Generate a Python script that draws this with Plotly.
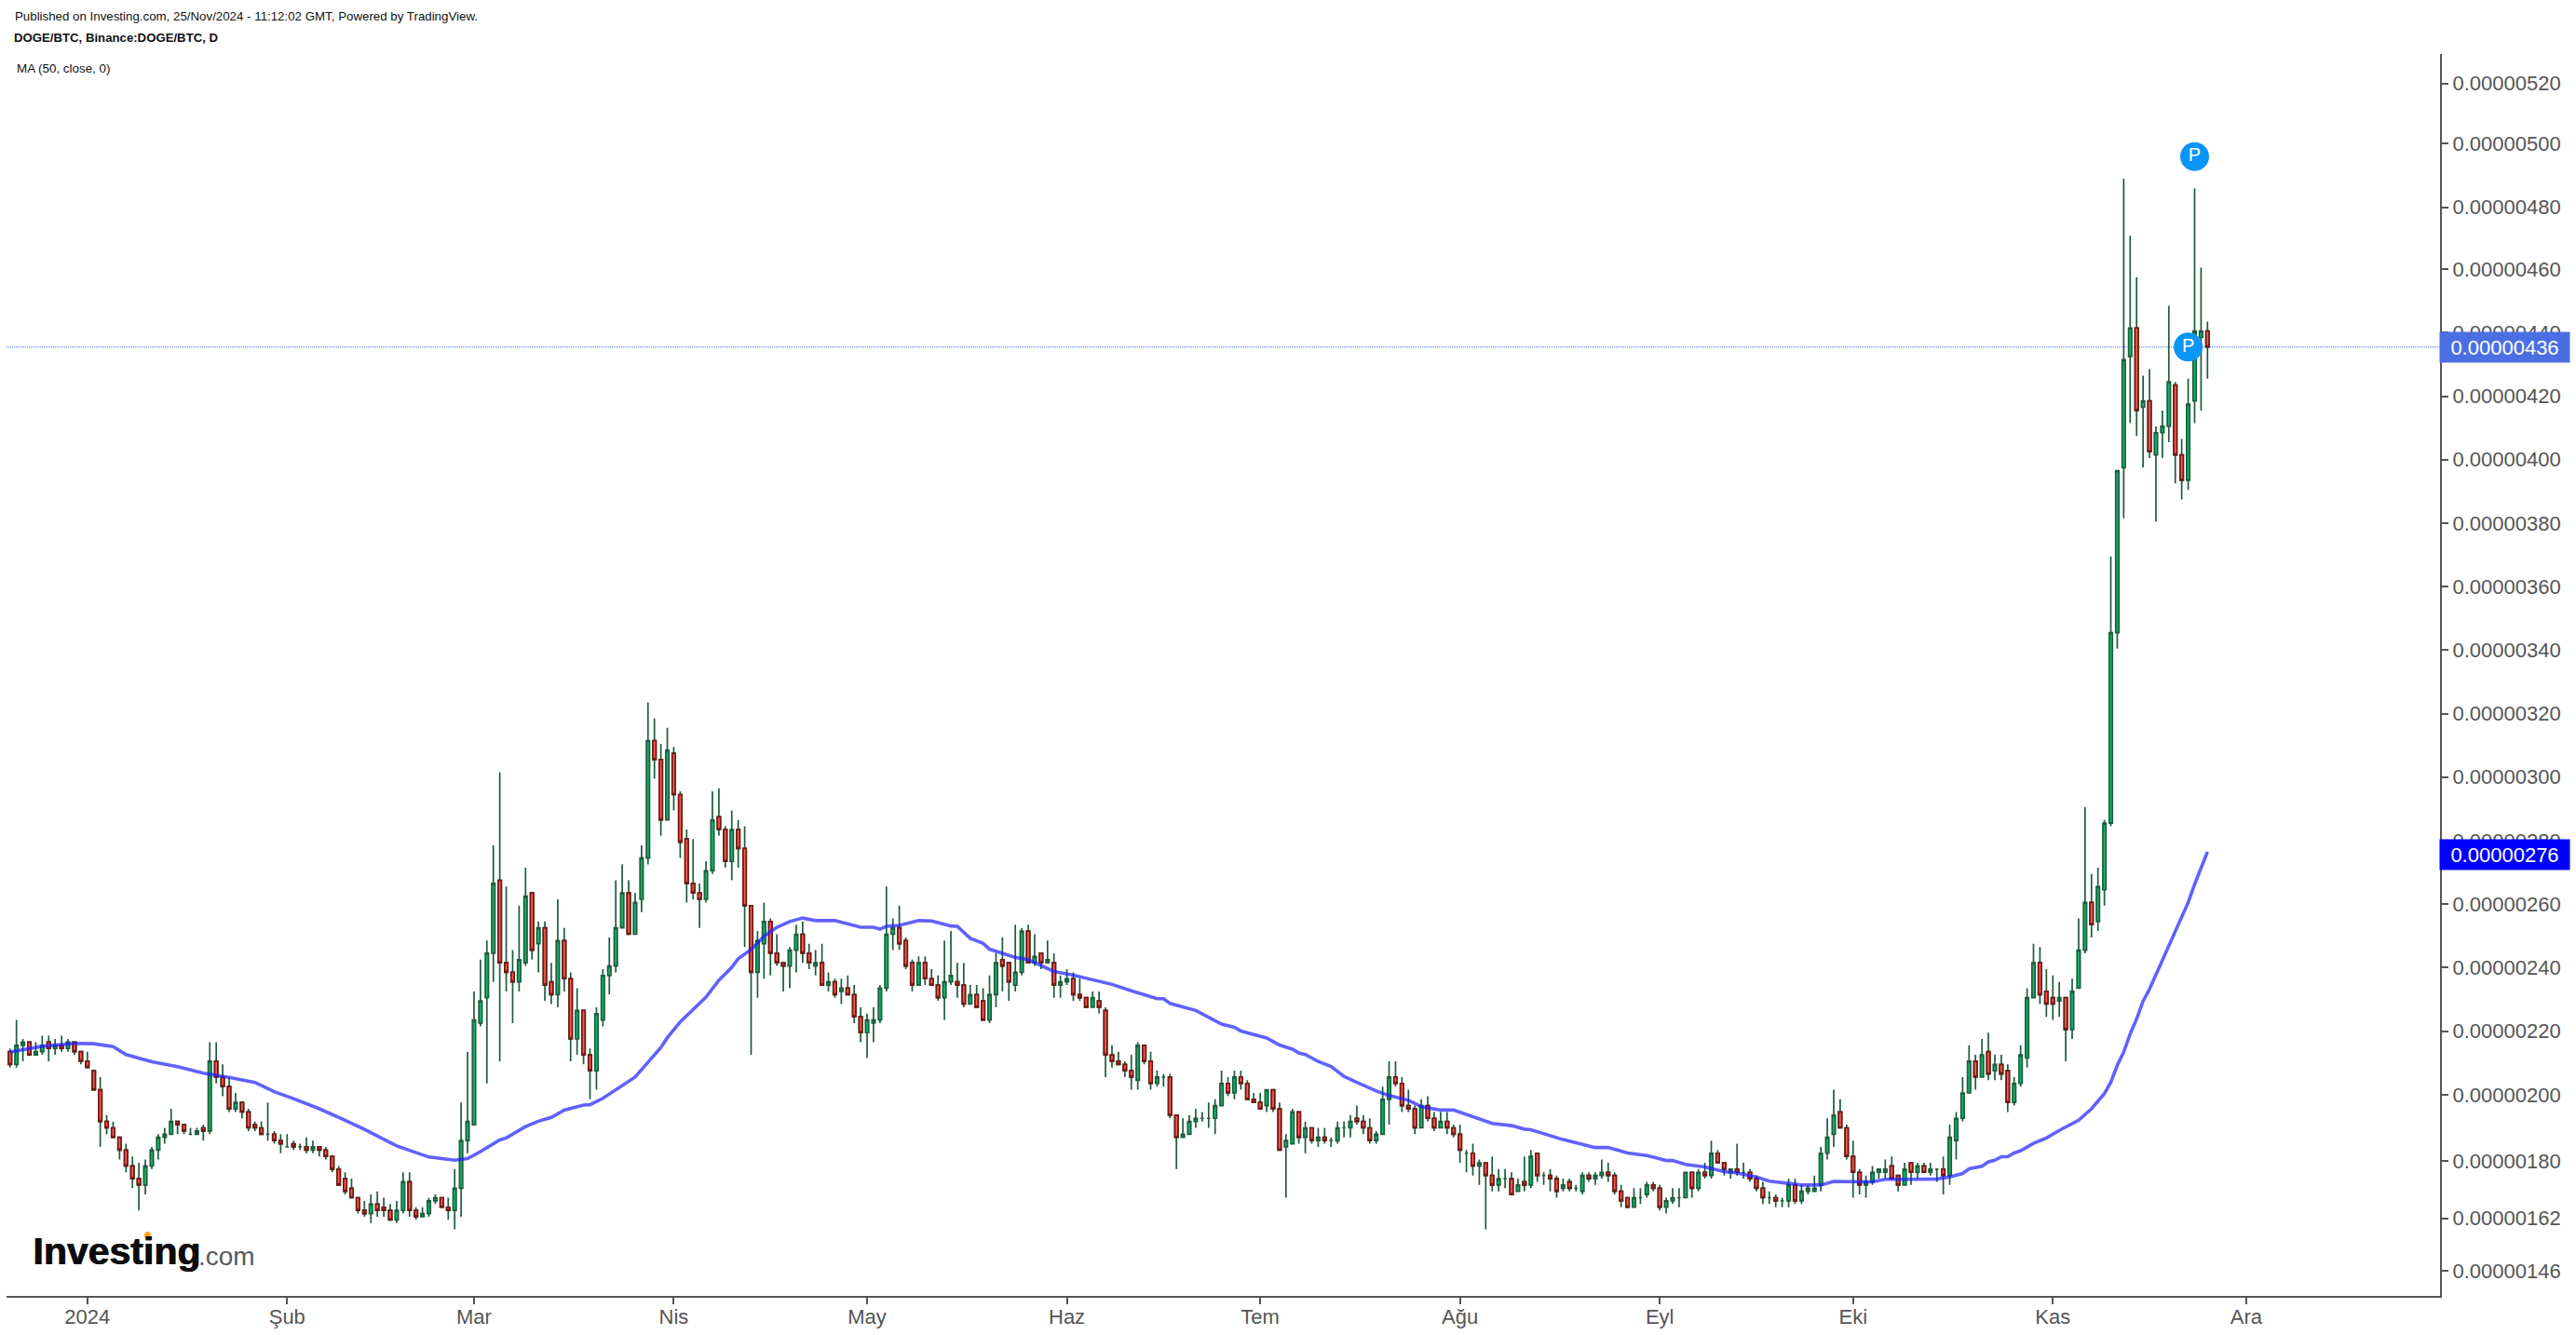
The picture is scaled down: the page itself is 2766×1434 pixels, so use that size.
import numpy as np
import pandas as pd
import plotly.graph_objects as go

# Prices in units of 0.00000001 BTC, one entry per daily candle from 2023-12-20 to 2024-11-25
open_units = [
 214,210,216,217,213,214,217,215,216,215,217,214,  # Dec
 211,208,202,192,190,187,183,178,174,172,178,183,187,188,192,191,188,188,190,189,211,206,203,196,198,195,191,190,188,188,186,  # Jan
 184,185,184,184,183,184,183,181,177,174,171,168,164,163,166,165,164,161,164,173,164,162,163,167,168,165,164,171,186,  # Feb
 191,223,231,245,268,242,239,236,242,264,248,253,236,232,249,237,218,227,213,208,224,238,241,253,264,251,262,275,312,306,287,  # Mar
 308,295,281,267,264,262,271,288,284,274,284,278,260,239,248,255,245,242,241,246,251,245,241,242,235,236,233,234,232,225,  # Apr
 220,223,224,234,251,253,249,242,235,242,237,235,231,236,236,235,229,232,230,224,232,243,242,235,239,252,242,245,242,242,235,  # May
 236,237,232,231,228,230,227,213,211,210,208,205,216,211,204,206,206,194,187,188,192,193,193,193,197,204,201,206,204,199,  # Jun
 198,197,202,196,184,185,195,187,190,186,187,186,186,190,190,193,192,190,186,188,199,206,204,197,196,190,197,193,190,192,190,  # Jul
 188,182,182,178,179,175,172,174,174,170,173,172,182,175,175,174,171,173,171,170,175,174,175,176,175,170,168,165,168,169,172,  # Aug
 171,165,167,168,168,176,171,176,175,182,179,176,177,176,176,174,171,168,168,167,167,172,167,170,170,172,182,188,195,190,  # Sep
 181,176,172,173,176,176,178,175,172,179,176,178,176,177,177,175,186,193,201,211,206,214,208,210,208,198,204,212,231,242,233,  # Oct
 231,230,231,221,234,246,261,255,265,286,346,398,433,442,417,419,402,409,411,424,402,394,419,439,441,  # Nov
]
high_units = [
 215,224,218,217,217,219,219,218,219,218,217,214,
 214,208,206,194,192,187,185,181,179,180,184,188,190,196,192,191,190,190,191,217,217,210,206,201,198,196,192,192,198,189,188,
 188,186,185,187,186,184,184,181,178,176,174,168,167,169,170,168,166,167,176,176,165,165,168,169,168,168,177,198,214,
 233,243,249,279,302,266,246,260,272,264,255,255,242,262,253,239,234,227,215,228,240,250,268,273,268,264,279,324,319,311,316,
 310,296,284,281,267,274,296,297,285,290,287,285,260,252,261,256,251,242,247,254,255,248,246,248,239,237,237,238,235,228,
 226,228,235,266,256,260,250,243,244,244,240,238,249,252,242,242,235,235,234,238,245,250,242,254,253,254,251,245,249,245,238,
 240,239,237,231,233,233,228,216,214,211,213,217,216,214,208,207,207,194,193,194,196,195,198,199,208,206,208,208,205,201,
 201,202,202,198,188,196,195,192,190,190,190,187,192,192,194,197,194,193,189,203,211,211,206,202,197,199,200,195,195,195,191,
 191,183,185,180,179,181,177,177,176,174,181,183,182,176,177,175,174,174,172,176,176,176,180,179,176,172,168,171,171,173,173,
 172,168,171,171,176,176,177,179,186,183,179,177,185,179,177,175,173,170,169,168,174,174,172,172,175,184,193,202,199,191,
 186,177,175,178,177,180,181,175,179,179,179,179,179,177,181,191,195,206,216,213,218,220,213,213,210,206,216,234,248,247,240,
 238,236,231,237,256,291,270,272,287,370,397,489,471,458,427,429,411,416,449,425,407,426,486,461,444,
]
low_units = [
 209,209,211,213,213,213,211,213,214,214,213,210,
 209,202,184,188,187,180,176,171,164,169,177,180,185,188,188,188,188,188,186,188,204,200,195,195,193,189,189,188,186,185,182,
 184,183,183,182,182,181,180,176,172,169,168,163,162,160,162,162,161,160,163,162,161,162,162,166,165,161,158,162,182,
 191,222,204,236,211,233,223,233,241,243,239,230,229,228,233,211,213,210,199,202,222,232,239,253,251,251,258,273,300,282,287,
 290,275,261,262,253,261,270,282,272,268,272,247,213,231,237,238,241,233,234,239,242,240,238,235,233,231,229,232,223,217,
 212,217,223,233,246,246,240,233,235,235,235,230,224,235,231,228,229,228,224,223,228,233,230,233,238,242,241,240,242,231,231,
 235,230,230,228,228,226,206,209,210,206,202,202,210,202,203,203,193,177,187,188,190,192,190,188,197,200,199,202,199,198,
 196,195,195,183,168,185,185,182,185,184,185,184,185,187,187,191,188,185,185,188,191,203,195,195,188,190,192,189,190,188,187,
 179,176,175,172,158,170,170,171,169,170,170,171,173,172,170,168,170,170,170,169,173,172,174,173,169,165,165,165,166,168,170,
 164,163,166,165,168,168,170,174,174,179,175,174,175,174,173,170,166,166,165,165,165,166,166,169,170,170,180,184,190,180,
 168,169,168,172,174,174,174,170,172,172,174,176,175,173,169,172,180,192,201,202,206,205,205,205,195,197,203,209,231,229,225,
 224,225,211,218,234,245,250,252,260,285,341,382,412,408,398,401,381,401,406,393,388,391,412,416,426,
]
close_units = [
 210,216,217,213,214,216,215,216,215,217,214,211,
 209,202,192,190,187,183,178,174,172,178,183,187,188,192,191,189,188,189,189,211,206,203,196,198,195,190,190,188,188,186,185,
 184,184,184,183,184,183,181,177,172,170,168,164,163,166,164,164,161,164,173,164,162,163,167,168,165,164,171,186,192,
 224,230,245,267,242,239,236,243,263,246,253,235,232,249,237,218,227,213,208,226,238,241,253,264,251,261,275,312,306,287,309,
 295,280,267,264,262,271,287,284,274,284,278,260,239,249,255,245,242,241,246,251,245,242,242,235,236,232,234,232,225,220,
 224,224,234,251,253,248,241,235,242,237,235,231,236,238,235,229,232,228,224,232,242,241,236,239,252,242,244,242,243,235,236,
 237,232,231,228,231,228,213,211,210,208,206,216,211,204,206,206,194,187,188,192,193,193,193,197,204,201,206,204,199,198,
 196,202,196,183,186,195,187,190,186,187,186,186,190,190,192,192,190,186,188,199,206,204,197,196,190,197,193,190,192,190,188,
 183,182,178,179,175,172,174,174,169,172,172,181,175,175,174,170,172,171,171,175,174,175,176,175,170,167,165,168,168,172,171,
 165,167,168,168,176,171,176,175,182,179,177,177,176,176,174,171,168,168,167,167,172,167,170,171,171,182,187,194,190,181,
 176,172,173,176,177,177,174,172,177,176,178,176,177,177,175,187,193,201,211,206,213,207,210,207,198,204,213,231,242,232,229,
 229,231,221,233,246,261,254,266,286,346,397,432,442,416,419,403,409,411,425,402,394,418,441,441,436,
]

# 50-day moving average: day number counted from 2024-01-01, and its value
ma_days = [-12,-10,-7,-2,1,4,6,10,14,18,22,26,29,32,36,40,43,48,53,57,59,61,64,65,68,70,72,74,77,78,80,85,87,89,90,92,96,98,100,101,103,105,107,109,
 111,113,116,120,122,123,124,126,129,131,134,135,137,139,140,142,144,146,148,150,153,155,156,159,162,166,167,168,172,174,176,178,179,183,185,187,188,189,191,193,195,197,
 200,202,205,207,210,212,218,221,223,224,229,234,236,239,242,245,246,248,251,254,256,259,261,264,266,269,271,277,279,284,
 287,289,291,292,294,295,296,297,298,299,300,302,304,306,309,311,313,314,315,316,317,318,319,320,322,323,324,326,327,328,329]
ma_units = [213.9,214.7,215.7,216.6,216.5,215.6,213.1,210.8,209.3,207.2,205.9,204.3,201.4,199.2,196,192.4,189.5,184.3,180.8,179.8,180.3,182.5,186.2,186.8,190.4,192.1,193.3,195.6,197.2,197.3,199.3,206,210.7,215.3,218.4,223.4,231.2,236.5,240.6,243.3,246.2,250.3,253.2,255,
 256.1,255.3,255.3,253.2,253.2,252.6,253.5,253.8,255.3,255.2,253.6,253.5,249.7,248.1,246.3,244.9,243.7,243,241.2,239.3,238.1,237.1,236.8,235.2,233.2,230.7,230.7,229.2,227,224.8,222.7,221.7,220.5,218.3,216.1,214.8,213.6,213.1,210.9,209.3,206.2,204.3,
 201.6,200.2,198.7,196.7,195.6,195.6,191.4,190.7,189.6,189.4,186.3,183.8,183.8,182.1,181.3,179.7,179.7,178.5,177.7,176.2,175.8,174.5,173.2,172.5,172,172,173.1,173,173.8,173.8,
 173.9,174.5,175.6,177.1,177.9,179.3,179.8,180.9,180.9,182.1,182.8,185.1,186.8,189.2,192.4,196,200.8,204.4,209.7,213.9,219.6,224.3,229.9,233.7,242.6,247.4,251.9,261,266.7,272.2,277]

# Positions of the two "P" badges: date and price in units
badge_dates = ["2024-11-23", "2024-11-22"]
badge_units = [496, 436]

last_close_units = 436
last_ma_units = 276

# Tick places as read against the candles (the printed labels are rounded)
y_tick_units = [145,161.5,179.5,200.4,220.5,240.5,260.5,280.5,300.5,320.5,340.5,360.5,380.5,400.5,420.5,440.5,460.5,480,500,519]
y_tick_labels = ["0.00000146","0.00000162","0.00000180","0.00000200","0.00000220","0.00000240","0.00000260","0.00000280","0.00000300","0.00000320",
                 "0.00000340","0.00000360","0.00000380","0.00000400","0.00000420","0.00000440","0.00000460","0.00000480","0.00000500","0.00000520"]
x_tick_dates = ["2024-01-01","2024-02-01","2024-03-01","2024-04-01","2024-05-01","2024-06-01","2024-07-01","2024-08-01","2024-09-01","2024-10-01","2024-11-01","2024-12-01"]
x_tick_labels = ["2024","Şub","Mar","Nis","May","Haz","Tem","Ağu","Eyl","Eki","Kas","Ara"]

assert len(open_units) == len(high_units) == len(low_units) == len(close_units) == 342
assert len(ma_days) == len(ma_units)

U = 1e-8
dates = pd.date_range("2023-12-20", periods=len(open_units), freq="D")
o, h, l, c = (np.array(a, dtype=float) * U for a in (open_units, high_units, low_units, close_units))
ma_dates = pd.Timestamp("2024-01-01") + pd.to_timedelta(ma_days, unit="D")
ma = np.array(ma_units) * U

W, H = 2766, 1434
L, R, T, B = 7, 2620, 58, 1392
WICK = "#1d5c3c"
UP = "#0cbb6b"
DOWN = "#ff5b4f"
DOWN_EDGE = "#701a16"
AX = "#555555"
FONT = "Liberation Sans, Arial, sans-serif"

fig = go.Figure()
# every candle: green-dark wick and green body
fig.add_trace(go.Candlestick(
    x=dates, open=o, high=h, low=l, close=c, whiskerwidth=0,
    increasing=dict(line=dict(color=WICK, width=1.7), fillcolor=UP),
    decreasing=dict(line=dict(color=WICK, width=1.7), fillcolor=DOWN),
    hoverinfo="skip", showlegend=False))
# falling candles' bodies get the dark red edge
down = c < o
fig.add_trace(go.Candlestick(
    x=dates[down], open=o[down], high=o[down], low=c[down], close=c[down], whiskerwidth=0,
    increasing=dict(line=dict(color=DOWN_EDGE, width=1.7), fillcolor=DOWN),
    decreasing=dict(line=dict(color=DOWN_EDGE, width=1.7), fillcolor=DOWN),
    hoverinfo="skip", showlegend=False))
fig.add_trace(go.Scatter(x=ma_dates, y=ma, mode="lines", line=dict(color="rgba(30,30,255,0.7)", width=3.6),
                         hoverinfo="skip", showlegend=False))
fig.add_trace(go.Scatter(x=badge_dates, y=np.array(badge_units) * U, mode="markers+text",
                         marker=dict(color="#0a96f7", size=31), text=["P", "P"], textposition="middle center",
                         textfont=dict(color="white", size=20, family=FONT), hoverinfo="skip", showlegend=False))

def px(x):
    return (x - L) / (R - L)

def py(y):
    return (B - y) / (B - T)

annots = []
def text(s, x, y, size, color="#111111", anchor="left", shadow=None):
    f = dict(family=FONT, size=size, color=color)
    if shadow:
        f["shadow"] = shadow
    annots.append(dict(text=s, xref="paper", yref="paper", x=px(x), y=py(y), xanchor=anchor, yanchor="middle",
                       showarrow=False, font=f))

text("Published on Investing.com, 25/Nov/2024 - 11:12:02 GMT, Powered by TradingView.", 14, 17, 13.3)
text("<b>DOGE/BTC, Binance:DOGE/BTC, D</b>", 13, 40.5, 13.2)
text("MA (50, close, 0)", 16, 73.5, 13.4)
text("<b>Investing</b>", 33, 1344, 41, "#0c0c0c", shadow="1px 0 0 #0c0c0c")
text(".com", 211, 1349, 28, "#5a5a5a")

for value, color in ((last_close_units, "#4a6fe3"), (last_ma_units, "#0000ff")):
    annots.append(dict(text=f"{value * U:.8f}", xref="paper", yref="y", x=1, y=value * U, xanchor="left", yanchor="middle",
                       xshift=-1, showarrow=False, font=dict(family=FONT, size=22, color="white"),
                       bgcolor=color, width=139, height=32, align="center", borderpad=0))

shapes = [
    dict(type="line", xref="paper", yref="y", x0=0, x1=1, y0=last_close_units * U, y1=last_close_units * U,
         line=dict(color="#7f96f0", width=1.5, dash="1px,1px"), layer="below"),
    # orange accent of the logo
    dict(type="circle", xref="paper", yref="paper", x0=px(155), x1=px(162), y0=py(1331), y1=py(1323),
         fillcolor="#f7a21b", line=dict(width=0), layer="above"),
]

fig.update_layout(
    width=W, height=H, autosize=False,
    margin=dict(l=L, r=W - R, t=T, b=H - B, autoexpand=False),
    paper_bgcolor="white", plot_bgcolor="white",
    boxmode="overlay", boxgap=0.3, showlegend=False,
    annotations=annots, shapes=shapes,
    font=dict(family=FONT, color=AX),
    xaxis=dict(type="date", range=["2023-12-19 11:00", "2024-12-31 02:00"], rangeslider=dict(visible=False),
               tickmode="array", tickvals=x_tick_dates, ticktext=x_tick_labels, ticks="outside", ticklen=7,
               tickwidth=1.5, tickcolor=AX, tickfont=dict(size=22, color=AX, family=FONT), ticklabelstandoff=-5,
               showgrid=False, zeroline=False, showline=True, linecolor=AX, linewidth=2),
    yaxis=dict(side="right", range=[137.06 * U, 528.3 * U],
               tickmode="array", tickvals=[v * U for v in y_tick_units], ticktext=y_tick_labels, ticks="outside", ticklen=7,
               tickwidth=1.5, tickcolor=AX, tickfont=dict(size=22, color=AX, family=FONT),
               showgrid=False, zeroline=False, showline=True, linecolor=AX, linewidth=2),
)

fig.write_html("out.html", config=dict(displayModeBar=False),
               post_script="document.body.style.margin='0';document.documentElement.style.overflow='hidden';")
